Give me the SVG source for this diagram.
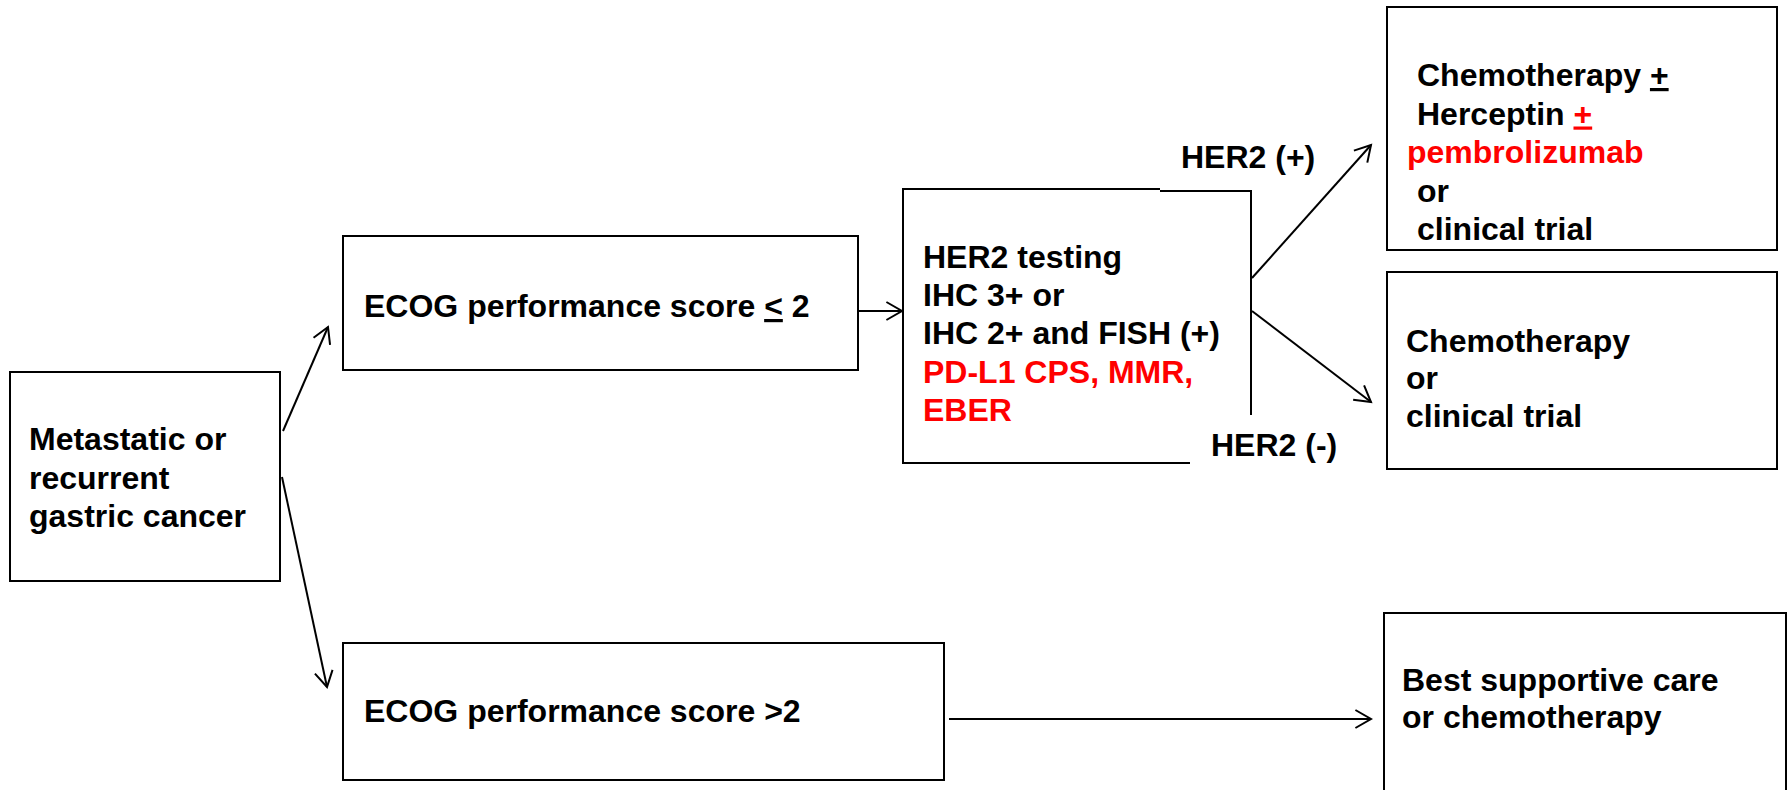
<svg xmlns="http://www.w3.org/2000/svg" width="1789" height="790" viewBox="0 0 1789 790">
<style>
  .box { fill: #fff; stroke: #000; stroke-width: 2; }
  .edge { fill: none; stroke: #000; stroke-width: 2; }
  .t { font-family: "Liberation Sans", Arial, sans-serif; font-weight: bold; font-size: 32px; fill: #000; }
  .red { fill: #ff0000; }
  .ul { text-decoration: underline; }
</style>
<defs>
  <marker id="arrow" markerUnits="userSpaceOnUse" viewBox="-18 -11 20 22" markerWidth="20" markerHeight="22" refX="0" refY="0" orient="auto" overflow="visible">
    <path d="M-15.6,-9 L0,0 L-15.6,9" fill="none" stroke="#000" stroke-width="2"/>
  </marker>
</defs>
<rect width="1789" height="790" fill="#fff"/>

<g id="connectors">
  <line class="edge" x1="283" y1="431" x2="328" y2="327" marker-end="url(#arrow)"/>
  <line class="edge" x1="282" y1="477" x2="327" y2="687" marker-end="url(#arrow)"/>
  <line class="edge" x1="858" y1="311" x2="902" y2="311" marker-end="url(#arrow)"/>
  <line class="edge" x1="1252" y1="278" x2="1371" y2="145" marker-end="url(#arrow)"/>
  <line class="edge" x1="1252" y1="311" x2="1371" y2="402" marker-end="url(#arrow)"/>
  <line class="edge" x1="949" y1="719" x2="1371" y2="719" marker-end="url(#arrow)"/>
</g>

<g id="node-metastatic">
  <rect class="box" x="10" y="372" width="270" height="209"/>
  <text class="t" x="29" y="450">Metastatic or</text>
  <text class="t" x="29" y="489">recurrent</text>
  <text class="t" x="29" y="527">gastric cancer</text>
</g>

<g id="node-ecog-low">
  <rect class="box" x="343" y="236" width="515" height="134"/>
  <text class="t" x="364" y="317">ECOG performance score <tspan class="ul">&lt;</tspan> 2</text>
</g>

<g id="node-ecog-high">
  <rect class="box" x="343" y="643" width="601" height="137"/>
  <text class="t" x="364" y="722">ECOG performance score &gt;2</text>
</g>

<g id="node-her2">
  <path class="edge" d="M1190,463 H903 V189 H1160 M1160,191 H1251 V415"/>
  <text class="t" x="923" y="268">HER2 testing</text>
  <text class="t" x="923" y="306">IHC 3+ or</text>
  <text class="t" x="923" y="344">IHC 2+ and FISH (+)</text>
  <text class="t red" x="923" y="383">PD-L1 CPS, MMR,</text>
  <text class="t red" x="923" y="421">EBER</text>
</g>

<g id="label-her2-pos">
  <text class="t" x="1181" y="168">HER2 (+)</text>
</g>

<g id="label-her2-neg">
  <text class="t" x="1211" y="456">HER2 (-)</text>
</g>

<g id="node-chemo-herceptin">
  <rect class="box" x="1387" y="7" width="390" height="243"/>
  <text class="t" x="1417" y="86">Chemotherapy <tspan class="ul">+</tspan></text>
  <text class="t" x="1417" y="124.5">Herceptin <tspan class="red ul">+</tspan></text>
  <text class="t red" x="1407" y="163">pembrolizumab</text>
  <text class="t" x="1417" y="201.5">or</text>
  <text class="t" x="1417" y="240">clinical trial</text>
</g>

<g id="node-chemo">
  <rect class="box" x="1387" y="272" width="390" height="197"/>
  <text class="t" x="1406" y="352">Chemotherapy</text>
  <text class="t" x="1406" y="389">or</text>
  <text class="t" x="1406" y="427">clinical trial</text>
</g>

<g id="node-bsc">
  <rect class="box" x="1384" y="613" width="402" height="200"/>
  <text class="t" x="1402" y="691">Best supportive care</text>
  <text class="t" x="1402" y="728">or chemotherapy</text>
</g>
</svg>
